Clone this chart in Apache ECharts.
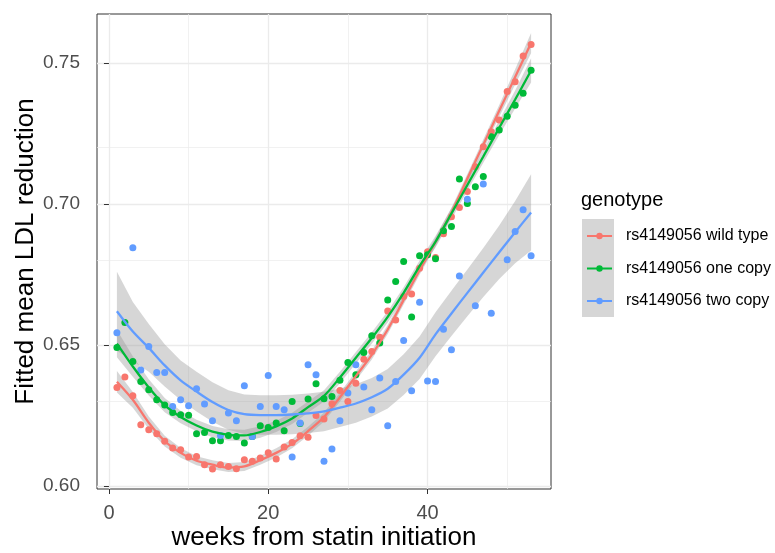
<!DOCTYPE html>
<html><head><meta charset="utf-8">
<script src="https://cdn.jsdelivr.net/npm/echarts@6/dist/echarts.min.js"></script>
<style>html,body{margin:0;padding:0;background:#fff}#c{width:775px;height:553px}</style>
</head><body><div id="c"></div>
<script>
// ---- data ----
const weeks = [1,2,3,4,5,6,7,8,9,10,11,12,13,14,15,16,17,18,19,20,21,22,23,24,25,26,27,28,29,30,31,32,33,34,35,36,37,38,39,40,41,42,43,44,45,46,47,48,49,50,51,52,53];
const wildType = [0.635,0.6387,0.632,0.6218,0.620,0.6186,0.6159,0.6135,0.6129,0.6103,0.6105,0.6076,0.6061,0.6076,0.607,0.6062,0.6094,0.6088,0.610,0.6118,0.6096,0.6139,0.6155,0.6179,0.6173,0.625,0.6238,0.6292,0.6339,0.630,0.6365,0.645,0.6477,0.6528,0.6621,0.6589,0.6672,0.6681,0.6772,0.6831,0.681,0.6894,0.6955,0.6987,0.7044,0.7132,0.7203,0.7256,0.7297,0.7398,0.7433,0.7524,0.7565];
const oneCopy = [0.6491,0.658,0.6442,0.6371,0.6342,0.6306,0.6288,0.6261,0.6253,0.6251,0.6186,0.619,0.6161,0.6161,0.618,0.6176,0.6153,0.6176,0.6214,0.6208,0.6224,0.6196,0.630,0.6222,0.6309,0.6363,0.631,0.6318,0.6375,0.6438,0.6395,0.6474,0.6533,0.6507,0.666,0.6725,0.6796,0.6599,0.6816,0.682,0.6806,0.6905,0.692,0.7088,0.7002,0.7061,0.7097,0.7238,0.7262,0.7311,0.735,0.7392,0.7474];
const twoCopy = [0.6544,null,0.6845,0.6412,0.6495,0.6403,0.6403,0.6282,0.6306,0.6285,0.6345,0.6291,0.6232,0.618,0.6259,0.6232,0.6356,0.6176,0.6282,0.6392,0.6282,0.6271,0.6103,0.6224,0.643,0.6395,0.6088,0.6132,0.6232,0.633,0.643,0.6351,0.6271,0.6383,0.6214,0.6371,0.6516,0.6338,0.6652,0.6373,0.6371,0.6556,0.6483,0.6745,0.7017,0.6639,0.7071,0.6613,null,0.6802,0.6902,0.6979,0.6816];

// fitted smooth curves and confidence bands (read at odd weeks)
const smoothWeeks = [1,3,5,7,9,11,13,15,17,19,21,23,25,27,29,31,33,35,37,39,41,43,45,47,49,51,53];
const wildFit = [0.637,0.6306,0.6225,0.616,0.6118,0.609,0.6076,0.6066,0.607,0.6092,0.6118,0.615,0.6195,0.6245,0.6315,0.639,0.6465,0.6555,0.666,0.6765,0.6865,0.697,0.709,0.721,0.733,0.745,0.757];
const wildHi = [0.6408,0.6334,0.6247,0.6179,0.6135,0.6106,0.6092,0.6082,0.6086,0.6108,0.6134,0.6166,0.6211,0.6261,0.6331,0.6406,0.6481,0.6571,0.6676,0.6781,0.6881,0.6986,0.7106,0.7228,0.7351,0.7477,0.7606];
const wildLo = [0.6332,0.6278,0.6203,0.6141,0.6101,0.6074,0.606,0.605,0.6054,0.6076,0.6102,0.6134,0.6179,0.6229,0.6299,0.6374,0.6449,0.6539,0.6644,0.6749,0.6849,0.6954,0.7074,0.7192,0.7309,0.7423,0.7534];
const oneFit = [0.6505,0.6424,0.635,0.6287,0.6245,0.6215,0.6193,0.6182,0.618,0.6192,0.6212,0.624,0.628,0.632,0.6385,0.6455,0.6525,0.66,0.6685,0.678,0.6866,0.6966,0.7067,0.7168,0.727,0.737,0.7473];
const oneHi = [0.6553,0.646,0.6379,0.6312,0.6267,0.6235,0.6213,0.6202,0.62,0.6212,0.6232,0.626,0.63,0.634,0.6405,0.6475,0.6545,0.662,0.6705,0.68,0.6886,0.6986,0.7087,0.719,0.7296,0.7402,0.7516];
const oneLo = [0.6457,0.6388,0.6321,0.6262,0.6223,0.6195,0.6173,0.6162,0.616,0.6172,0.6192,0.622,0.626,0.63,0.6365,0.6435,0.6505,0.658,0.6665,0.676,0.6846,0.6946,0.7047,0.7146,0.7244,0.7338,0.743];
const twoFit = [0.662,0.6548,0.649,0.6428,0.6375,0.6335,0.6298,0.627,0.6255,0.6252,0.6252,0.6254,0.6258,0.6265,0.6278,0.6293,0.6315,0.6345,0.6395,0.6455,0.6538,0.6612,0.6685,0.6757,0.6829,0.69,0.697];
const twoHi = [0.676,0.6653,0.6575,0.6503,0.6445,0.6405,0.6368,0.634,0.6325,0.6322,0.6322,0.6324,0.6328,0.6335,0.6346,0.6361,0.6383,0.6415,0.6467,0.653,0.6616,0.6692,0.6768,0.6844,0.6924,0.701,0.7105];
const twoLo = [0.648,0.6443,0.6405,0.6353,0.6305,0.6265,0.6228,0.62,0.6185,0.6182,0.6182,0.6184,0.6188,0.6195,0.621,0.6225,0.6247,0.6275,0.6323,0.638,0.646,0.6532,0.6602,0.667,0.6734,0.679,0.6835];

const groupNames = ['rs4149056 wild type','rs4149056 one copy','rs4149056 two copy'];
const groupColors = ['#F8766D','#00BA38','#619CFF'];
const xMajor = [0,20,40];
const xMinor = [10,30,50];
const yMajor = [0.60,0.65,0.70,0.75];
const yMinor = [0.625,0.675,0.725];
const xTitle = 'weeks from statin initiation';
const yTitle = 'Fitted mean LDL reduction';
const legendTitle = 'genotype';

// ---- build ----
const FONT = 'Liberation Sans, Arial, sans-serif';
const pts = [wildType, oneCopy, twoCopy];
const fits = [wildFit, oneFit, twoFit];
const his = [wildHi, oneHi, twoHi];
const los = [wildLo, oneLo, twoLo];

function bandSeries(g){
  const data = smoothWeeks.map((w,i)=>[w, los[g][i], his[g][i]]);
  return {
    type:'custom', name:'band'+g, z:1, silent:true,
    data: data, encode:{x:0, y:[1,2]},
    renderItem: function(params, api){
      if (params.dataIndex !== 0) return null;
      const poly = [];
      for (let i=0;i<data.length;i++) poly.push(api.coord([data[i][0], data[i][2]]));
      for (let i=data.length-1;i>=0;i--) poly.push(api.coord([data[i][0], data[i][1]]));
      return {type:'polygon', shape:{points:poly, smooth:0}, style:{fill:'rgba(153,153,153,0.4)', stroke:null}};
    }
  };
}

const gridLineData = [];
xMajor.forEach(v=>gridLineData.push({xAxis:v, lineStyle:{width:1.3}}));
xMinor.forEach(v=>gridLineData.push({xAxis:v, lineStyle:{width:0.7}}));
yMajor.forEach(v=>gridLineData.push({yAxis:v, lineStyle:{width:1.3}}));
yMinor.forEach(v=>gridLineData.push({yAxis:v, lineStyle:{width:0.7}}));

const series = [];
series.push({
  type:'line', name:'grid', z:0, silent:true, data:[[xMajor[0], yMajor[0]]], symbol:'none',
  lineStyle:{opacity:0},
  markLine:{silent:true, z:0, symbol:['none','none'], label:{show:false}, animation:false,
    lineStyle:{color:'#EBEBEB', type:'solid'}, data:gridLineData}
});
for (let g=0; g<3; g++) series.push(bandSeries(g));
for (let g=0; g<3; g++) series.push({
  type:'scatter', name:groupNames[g]+' points', z:2, symbol:'circle', symbolSize:7,
  itemStyle:{color:groupColors[g], opacity:1},
  data: weeks.map((w,i)=>[w, pts[g][i]]).filter(d=>d[1]!==null)
});
for (let g=0; g<3; g++) series.push({
  type:'line', name:groupNames[g], z:3, smooth:0.3, symbol:'circle', showSymbol:false, symbolSize:6,
  lineStyle:{color:groupColors[g], width:2.3}, itemStyle:{color:groupColors[g]},
  data: smoothWeeks.map((w,i)=>[w, fits[g][i]])
});

const option = {
  animation:false,
  backgroundColor:'#ffffff',
  grid:{left:97, right:224, top:14, bottom:64, show:true, borderColor:'#333333', borderWidth:1, backgroundColor:'#ffffff', containLabel:false, outerBoundsMode:'none'},
  title:{text:legendTitle, left:581, top:190, padding:0, textStyle:{fontFamily:FONT, fontSize:20, fontWeight:'normal', color:'#000'}},
  legend:{
    data:groupNames, orient:'vertical', left:586, top:228, itemWidth:25, itemHeight:8, itemGap:16.5,
    selectedMode:false, padding:0,
    textStyle:{fontFamily:FONT, fontSize:16, color:'#000', lineHeight:16, padding:[0,0,0,9]}
  },
  graphic:[{type:'rect', left:582, top:219, z:-1, shape:{width:32, height:98}, style:{fill:'#D6D6D6'}}],
  xAxis:{
    type:'value', min:-1.5, max:55.5,
    name:xTitle, nameLocation:'middle', nameGap:36, nameMoveOverlap:false,
    nameTextStyle:{fontFamily:FONT, fontSize:26, color:'#000'},
    axisLine:{show:false},
    axisTick:{show:true, customValues:xMajor, length:5, lineStyle:{color:'#333333', width:1}},
    axisLabel:{customValues:xMajor, margin:14, fontFamily:FONT, fontSize:20, color:'#4D4D4D'},
    splitLine:{show:false}
  },
  yAxis:{
    type:'value', min:0.599, max:0.7673,
    name:yTitle, nameLocation:'middle', nameGap:58, nameMoveOverlap:false,
    nameTextStyle:{fontFamily:FONT, fontSize:26, color:'#000'},
    axisLine:{show:false},
    axisTick:{show:true, customValues:yMajor, length:5, lineStyle:{color:'#333333', width:1}},
    axisLabel:{customValues:yMajor, margin:17, fontFamily:FONT, fontSize:19, color:'#4D4D4D', formatter:v=>Number(v).toFixed(2)},
    splitLine:{show:false}
  },
  series: series
};
const chart = echarts.init(document.getElementById('c'), null, {renderer:'canvas'});
chart.setOption(option);
</script>
</body></html>
